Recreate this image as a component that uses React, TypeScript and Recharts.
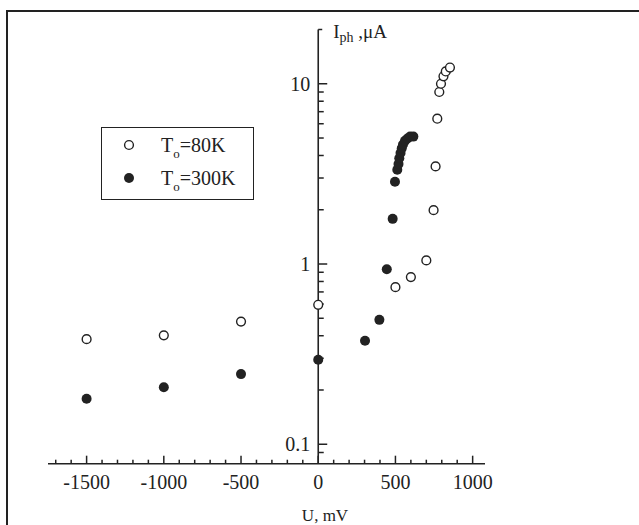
import { ScatterChart, Scatter, XAxis, YAxis, ReferenceLine, Legend } from "recharts";

// T0 = 80 K (open circles)
const u80 = [-1500, -1000, -500, 0, 500, 600, 700, 747, 760, 771, 784, 795, 811, 826, 853];
const i80 = [0.383, 0.402, 0.479, 0.594, 0.744, 0.846, 1.047, 1.99, 3.48, 6.4, 9.0, 10.0, 11.0, 11.7, 12.3];

// T0 = 300 K (filled circles)
const u300 = [-1500, -1000, -500, 0, 303, 396, 444, 482, 497, 512, 520, 525, 533, 541, 549, 562, 578, 595, 616];
const i300 = [0.179, 0.207, 0.245, 0.294, 0.375, 0.49, 0.935, 1.78, 2.86, 3.33, 3.59, 3.86, 4.13, 4.39, 4.6, 4.83, 4.97, 5.09, 5.09];

const seriesNames = ["80K", "300K"];

const xTicks = [
  -1700, -1600, -1500, -1400, -1300, -1200, -1100, -1000, -900, -800, -700, -600, -500, -400,
  -300, -200, -100, 0, 100, 200, 300, 400, 500, 600, 700, 800, 900, 1000,
];
const xMajor = [-1500, -1000, -500, 0, 500, 1000];
const yMajor = [0.1, 1, 10];
const yMinor = [0.09, 0.2, 0.3, 0.4, 0.5, 0.6, 0.7, 0.8, 0.9, 2, 3, 4, 5, 6, 7, 8, 9];
const yTop = 20;

const ink = "#222";
const serif = "'Liberation Serif', 'Times New Roman', serif";

const d80 = u80.map((u, k) => ({ u, i: i80[k] }));
const d300 = u300.map((u, k) => ({ u, i: i300[k] }));

// the y axis sits at U = 0, so its ticks are drawn as marks on that line
const yTickData = [
  ...yMinor.map((v) => ({ u: 0, i: v, kind: "minor" })),
  ...yMajor.map((v) => ({ u: 0, i: v, kind: "major" })),
  { u: 0, i: yTop, kind: "cap" },
];

const openDot = (p: any) => (
  <circle cx={p.cx} cy={p.cy} r={4.4} fill="#fff" stroke={ink} strokeWidth={1.4} />
);
const fillDot = (p: any) => <circle cx={p.cx} cy={p.cy} r={5} fill={ink} />;

const hTick = (cx: number, cy: number, len: number) => (
  <path d={`M${cx},${cy}h${len}`} stroke={ink} strokeWidth={1.5} fill="none" />
);

const yTickMark = (p: any) => {
  const { cx, cy, payload } = p;
  if (payload.kind === "minor") return hTick(cx, cy, 5.5);
  if (payload.kind === "major") {
    return (
      <g>
        {hTick(cx, cy, 9)}
        <text x={cx - 8} y={cy + 7} textAnchor="end" fontSize={20} fontFamily={serif} fill={ink}>
          {payload.i}
        </text>
      </g>
    );
  }
  return (
    <g>
      {hTick(cx, cy, 4)}
      <text x={cx + 15} y={cy + 8} fontSize={19} fontFamily={serif} fill={ink}>
        I
        <tspan dy={4} fontSize={14}>
          ph
        </tspan>
        <tspan dy={-4}> ,μA</tspan>
      </text>
    </g>
  );
};

function XTick(props: any) {
  const { x, y, payload } = props;
  const major = xMajor.includes(payload.value);
  const h = major ? 8 : 4;
  return (
    <g>
      <path d={`M${x},${y}v${-h}`} stroke={ink} strokeWidth={1.5} fill="none" />
      {major && (
        <text x={x} y={y + 25} textAnchor="middle" fontSize={20} fontFamily={serif} fill={ink}>
          {payload.value}
        </text>
      )}
    </g>
  );
}

function LegendBox() {
  const row = (filled: boolean, name: string, top: number) => (
    <div style={{ position: "absolute", left: 0, top, height: 24, width: "100%" }}>
      <svg width={40} height={24} style={{ position: "absolute", left: 6, top: 0 }}>
        {filled ? (
          <circle cx={21} cy={12} r={5} fill={ink} />
        ) : (
          <circle cx={21} cy={12} r={4.4} fill="#fff" stroke={ink} strokeWidth={1.4} />
        )}
      </svg>
      <span
        style={{
          position: "absolute",
          left: 59,
          top: 0,
          fontSize: 20,
          lineHeight: "24px",
          fontFamily: serif,
          color: ink,
          whiteSpace: "nowrap",
        }}
      >
        T<sub style={{ fontSize: 13, verticalAlign: -6, lineHeight: 0 }}>o</sub>={name}
      </span>
    </div>
  );
  return (
    <div
      style={{
        position: "relative",
        width: 153,
        height: 73,
        border: `1.6px solid ${ink}`,
        boxSizing: "border-box",
        background: "#fff",
      }}
    >
      {row(false, seriesNames[0], 5)}
      {row(true, seriesNames[1], 38)}
    </div>
  );
}

const xLabel = (p: any) => {
  const vb = p.viewBox;
  return (
    <text x={vb.x + 277} y={vb.y + vb.height + 27} textAnchor="middle" fontSize={17} fontFamily={serif} fill={ink}>
      U, mV
    </text>
  );
};

export default function App() {
  return (
    <div style={{ position: "absolute", left: 0, top: 0, width: 639, height: 525, background: "#fff", overflow: "hidden" }}>
      <div
        style={{
          position: "absolute",
          left: 6,
          top: 10,
          width: 640,
          height: 520,
          borderTop: `2px solid ${ink}`,
          borderLeft: `2px solid ${ink}`,
        }}
      />
      <div style={{ position: "absolute", left: 0, top: 0 }}>
        <ScatterChart width={639} height={525} margin={{ top: 29.5, right: 154, bottom: 31.3, left: 48 }}>
          <XAxis
            type="number"
            dataKey="u"
            domain={[-1750, 1080]}
            ticks={xTicks}
            interval={0}
            tickSize={0}
            tickMargin={0}
            tickLine={false}
            tick={<XTick />}
            axisLine={{ stroke: ink, strokeWidth: 1.6 }}
            height={30}
            label={xLabel}
          />
          <YAxis type="number" dataKey="i" scale="log" domain={[0.078, yTop]} hide />
          <ReferenceLine x={0} stroke={ink} strokeWidth={1.6} />
          <Scatter data={yTickData} shape={yTickMark} isAnimationActive={false} />
          <Scatter data={d80} shape={openDot} isAnimationActive={false} />
          <Scatter data={d300} shape={fillDot} isAnimationActive={false} />
          <Legend
            layout="vertical"
            align="center"
            verticalAlign="middle"
            wrapperStyle={{ left: 101, top: 127, width: 153, height: 73 }}
            content={() => <LegendBox />}
          />
        </ScatterChart>
      </div>
    </div>
  );
}
